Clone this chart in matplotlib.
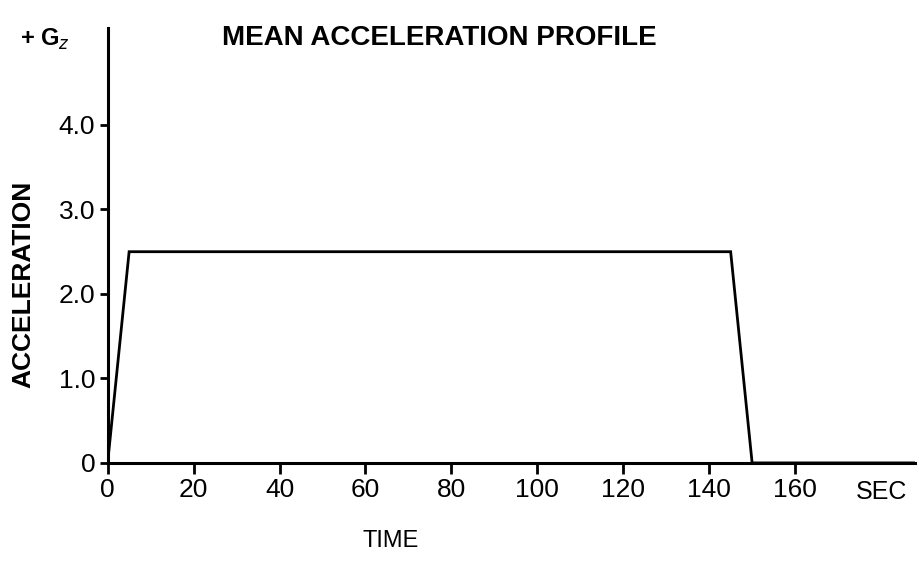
import matplotlib
matplotlib.use("Agg")
import matplotlib.pyplot as plt

# mean +Gz profile
time_s = [0, 5, 145, 150, 188]
accel_g = [0, 2.5, 2.5, 0, 0]

x_ticks = [0, 20, 40, 60, 80, 100, 120, 140, 160]
y_ticks = [0, 1.0, 2.0, 3.0, 4.0]
y_labels = ["0", "1.0", "2.0", "3.0", "4.0"]

plt.rcParams["font.family"] = ["Liberation Sans", "DejaVu Sans"]

fig = plt.figure(figsize=(9.2, 5.68), dpi=100)
ax = fig.add_axes([0.117, 0.185, 0.878, 0.766])

ax.plot(time_s, accel_g, color="black", lw=2.0, solid_joinstyle="miter")

ax.set_xlim(0, 188)
ax.set_ylim(0, 5.15)
ax.spines["top"].set_visible(False)
ax.spines["right"].set_visible(False)
ax.spines["left"].set_linewidth(2.2)
ax.spines["bottom"].set_linewidth(2.2)

ax.set_xticks(x_ticks)
ax.set_xticklabels([str(t) for t in x_ticks])
ax.set_yticks(y_ticks)
ax.set_yticklabels(y_labels)
ax.tick_params(axis="both", width=2, labelsize=19)
ax.tick_params(axis="x", direction="out", length=8, pad=3)
ax.tick_params(axis="y", direction="out", length=6, pad=3)

# units written at the end of the time axis
ax.text(180, -0.2, "SEC", ha="center", va="top", fontsize=18)

ax.set_ylabel("ACCELERATION", fontsize=19, fontweight="bold")
ax.yaxis.set_label_coords(-0.09, 0.41)
ax.set_xlabel("TIME", fontsize=17)
ax.xaxis.set_label_coords(0.35, -0.155)

fig.text(0.478, 0.933, "MEAN ACCELERATION PROFILE", ha="center", va="center",
         fontsize=20, fontweight="bold")
fig.text(0.049, 0.931, "+ G$_z$", ha="center", va="center", fontsize=17, fontweight="bold")

fig.savefig("out.png", dpi=100)
